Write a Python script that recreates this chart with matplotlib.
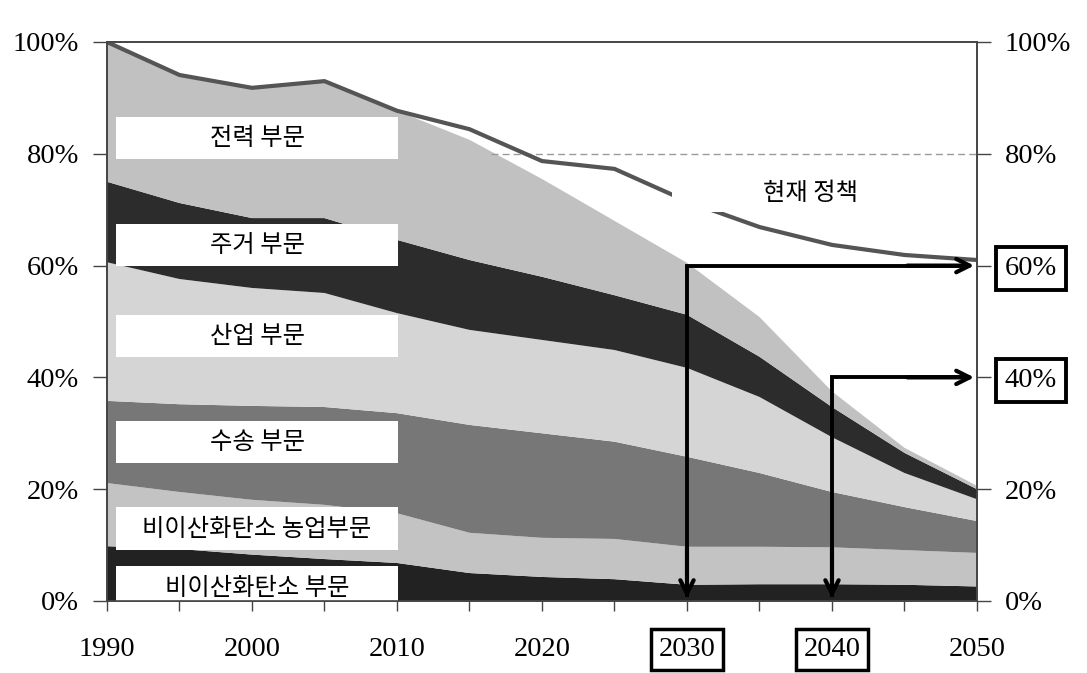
import matplotlib
matplotlib.use("Agg")
import matplotlib.pyplot as plt
from matplotlib.patches import Rectangle

plt.rcParams['font.family'] = ['Liberation Serif', 'Noto Sans CJK KR', 'DejaVu Sans']

years = [1990, 1995, 2000, 2005, 2010, 2015, 2020, 2025, 2030, 2035, 2040, 2045, 2050]
non_co2 = [9.8, 9.3, 8.3, 7.5, 6.8, 5.0, 4.3, 3.9, 2.9, 3.0, 3.0, 2.9, 2.6]
agri = [11.3, 10.2, 9.8, 9.7, 8.9, 7.2, 7.0, 7.2, 6.8, 6.7, 6.6, 6.2, 6.0]
transport = [14.7, 15.7, 16.8, 17.5, 17.9, 19.3, 18.7, 17.4, 16.1, 13.2, 9.9, 7.7, 5.7]
industry = [24.8, 22.4, 21.1, 20.4, 17.9, 17.0, 16.7, 16.4, 15.9, 13.6, 9.8, 6.1, 3.9]
residential = [14.4, 13.6, 12.5, 13.4, 13.1, 12.5, 11.3, 9.8, 9.5, 7.2, 5.4, 3.6, 1.8]
power = [25.0, 22.9, 23.3, 24.5, 23.1, 21.5, 17.5, 13.3, 9.3, 7.1, 2.8, 0.9, 0.6]
policy = [100, 94.1, 91.8, 93.0, 87.7, 84.4, 78.7, 77.3, 71.5, 66.9, 63.7, 61.9, 61.0]

layer_names = ['비이산화탄소 부문', '비이산화탄소 농업부문', '수송 부문', '산업 부문', '주거 부문', '전력 부문']
layer_colors = ['#222222', '#c3c3c3', '#777777', '#d5d5d5', '#2c2c2c', '#c1c1c1']
# label box vertical extents (percent) for each sector label
label_y = [(0, 6.3), (9.1, 16.8), (24.7, 32.2), (43.6, 51.2), (59.9, 67.4), (79.1, 86.6)]

target_years = [2030, 2040]
target_levels = [60, 40]
yticks = [0, 20, 40, 60, 80, 100]

KR = ['Noto Sans CJK KR', 'DejaVu Sans']
TICK_FS = 20.5

fig = plt.figure(figsize=(10.87, 6.73), dpi=100)
ax = fig.add_axes([0.0984, 0.1070, 0.8004, 0.8306])

ax.stackplot(years, non_co2, agri, transport, industry, residential, power,
             colors=layer_colors, linewidth=0, zorder=1)

ax.plot(years, policy, color='#555555', lw=3, zorder=3, solid_joinstyle='round')
ax.plot([2016.5, 2050], [80, 80], color='#9a9a9a', lw=1, ls=(0, (5, 3)), zorder=2)

# white box behind "현재 정책"
ax.add_patch(Rectangle((2029.0, 69.6), 19.1, 8.4, facecolor='white', edgecolor='none', zorder=4))
ax.text(2038.5, 73.0, '현재 정책', ha='center', va='center', fontsize=17.5,
        family=KR, zorder=5)

# sector labels
for name, (y0, y1) in zip(layer_names, label_y):
    ax.add_patch(Rectangle((1990.6, y0), 19.5, y1 - y0, facecolor='white', edgecolor='none', zorder=4))
    ty = (y0 + y1) / 2 if y0 > 0 else 2.4
    ax.text(2000.35, ty, name, ha='center', va='center', fontsize=17.5,
            family=KR, zorder=5)

# arrows
for yr, lvl in zip(target_years, target_levels):
    ax.plot([yr, yr, 2049.0], [1.0, lvl, lvl], color='black', lw=2.8, zorder=6, solid_joinstyle='miter')
    ax.annotate('', xy=(yr, 0), xytext=(yr, 10),
                arrowprops=dict(arrowstyle='->', color='black', lw=3, mutation_scale=24), zorder=6)
    ax.annotate('', xy=(2050, lvl), xytext=(2045, lvl),
                arrowprops=dict(arrowstyle='->', color='black', lw=3, mutation_scale=24), zorder=6)

ax.set_xlim(1990, 2050)
ax.set_ylim(0, 100)
ax.set_xticks(years)
ax.set_xticklabels([str(y) if y % 10 == 0 else '' for y in years], fontsize=TICK_FS)
ax.set_yticks(yticks)
ax.set_yticklabels([f'{v}%' for v in yticks], fontsize=TICK_FS)
ax.tick_params(axis='x', direction='out', length=7, width=1, pad=19, colors='#444444', labelcolor='black')
ax.tick_params(axis='y', direction='out', length=10, width=1, pad=10, colors='#444444', labelcolor='black')
for s in ax.spines.values():
    s.set_color('#444444')
    s.set_linewidth(1.2)

ax2 = ax.twinx()
ax2.set_ylim(0, 100)
ax2.set_yticks(yticks)
ax2.set_yticklabels([f'{v}%' for v in yticks], fontsize=TICK_FS)
ax2.tick_params(axis='y', direction='out', length=10, width=1, pad=10, colors='#444444', labelcolor='black')
for s in ax2.spines.values():
    s.set_color('#444444')
    s.set_linewidth(1.2)

# boxed tick labels
for lab in ax.get_xticklabels():
    if lab.get_text() in [str(y) for y in target_years]:
        lab.set_bbox(dict(facecolor='white', edgecolor='black', lw=2.5, pad=5.5))
for lab in ax2.get_yticklabels():
    if lab.get_text() in [f'{v}%' for v in target_levels]:
        lab.set_bbox(dict(facecolor='white', edgecolor='black', lw=2.8, pad=6.5))

fig.savefig('out.png', dpi=100, facecolor='white')
